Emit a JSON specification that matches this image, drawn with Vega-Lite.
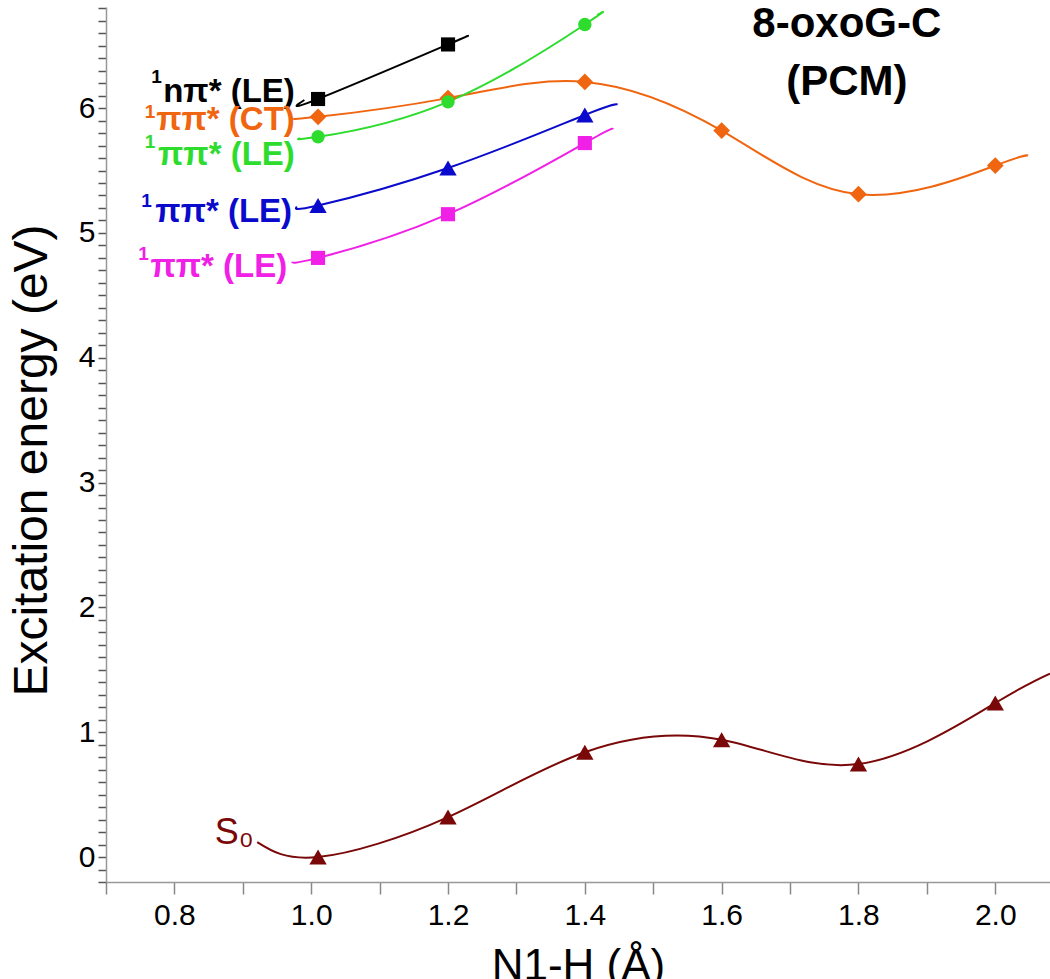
{
  "$schema": "https://vega.github.io/schema/vega-lite/v6.json",
  "autosize": {"type": "none"},
  "width": 944,
  "height": 875,
  "padding": {"left": 106, "top": 7, "right": 0, "bottom": 97},
  "background": "white",
  "config": {
    "view": {"stroke": null},
    "font": "Liberation Sans",
    "axis": {"grid": false, "labelFont": "Liberation Sans", "titleFont": "Liberation Sans", "labelColor": "#000", "titleColor": "#000", "titleFontWeight": "normal", "domainColor": "#999", "domainWidth": 1.5, "labelOverlap": false},
    "axisY": {"tickSize": 8, "tickColor": "#555", "tickWidth": 1.5}
  },
  "datasets": {
    "curves": [
      {"s": "npi", "x": 0.99, "y": 6.065, "m": false},
      {"s": "npi", "x": 1.01, "y": 6.073, "m": true},
      {"s": "npi", "x": 1.2, "y": 6.51, "m": true},
      {"s": "npi", "x": 1.215, "y": 6.546, "m": false},
      {"s": "ct", "x": 0.973, "y": 5.92, "m": false},
      {"s": "ct", "x": 1.01, "y": 5.93, "m": true},
      {"s": "ct", "x": 1.2, "y": 6.08, "m": true},
      {"s": "ct", "x": 1.4, "y": 6.21, "m": true},
      {"s": "ct", "x": 1.6, "y": 5.82, "m": true},
      {"s": "ct", "x": 1.8, "y": 5.31, "m": true},
      {"s": "ct", "x": 2.0, "y": 5.54, "m": true},
      {"s": "ct", "x": 2.048, "y": 5.62, "m": false},
      {"s": "pi3", "x": 0.984, "y": 5.76, "m": false},
      {"s": "pi3", "x": 1.01, "y": 5.77, "m": true},
      {"s": "pi3", "x": 1.2, "y": 6.05, "m": true},
      {"s": "pi3", "x": 1.4, "y": 6.67, "m": true},
      {"s": "pi3", "x": 1.418, "y": 6.746, "m": false},
      {"s": "pi2", "x": 0.979, "y": 5.21, "m": false},
      {"s": "pi2", "x": 1.01, "y": 5.22, "m": true},
      {"s": "pi2", "x": 1.2, "y": 5.52, "m": true},
      {"s": "pi2", "x": 1.4, "y": 5.945, "m": true},
      {"s": "pi2", "x": 1.448, "y": 6.03, "m": false},
      {"s": "pi1", "x": 0.972, "y": 4.77, "m": false},
      {"s": "pi1", "x": 1.01, "y": 4.8, "m": true},
      {"s": "pi1", "x": 1.2, "y": 5.15, "m": true},
      {"s": "pi1", "x": 1.4, "y": 5.72, "m": true},
      {"s": "pi1", "x": 1.441, "y": 5.83, "m": false},
      {"s": "s0", "x": 0.921, "y": 0.12, "m": false},
      {"s": "s0", "x": 1.01, "y": 0.0, "m": true},
      {"s": "s0", "x": 1.2, "y": 0.32, "m": true},
      {"s": "s0", "x": 1.4, "y": 0.84, "m": true},
      {"s": "s0", "x": 1.6, "y": 0.94, "m": true},
      {"s": "s0", "x": 1.8, "y": 0.745, "m": true},
      {"s": "s0", "x": 2.0, "y": 1.234, "m": true},
      {"s": "s0", "x": 2.08, "y": 1.47, "m": false}
    ],
    "labels": [
      {"s": "npi", "x": 0.976, "y": 6.13, "t": "nπ* (LE)"},
      {"s": "ct", "x": 0.976, "y": 5.905, "t": "ππ* (CT)"},
      {"s": "pi3", "x": 0.976, "y": 5.625, "t": "ππ* (LE)"},
      {"s": "pi2", "x": 0.972, "y": 5.17, "t": "ππ* (LE)"},
      {"s": "pi1", "x": 0.965, "y": 4.73, "t": "ππ* (LE)"}
    ],
    "sups": [
      {"s": "npi", "x": 0.7738, "y": 6.249, "t": "1"},
      {"s": "ct", "x": 0.7643, "y": 5.969, "t": "1"},
      {"s": "pi3", "x": 0.7643, "y": 5.728, "t": "1"},
      {"s": "pi2", "x": 0.7592, "y": 5.255, "t": "1"},
      {"s": "pi1", "x": 0.7548, "y": 4.831, "t": "1"}
    ],
    "titles": [
      {"x": 1.783, "y": 6.67, "t": "8-oxoG-C"},
      {"x": 1.783, "y": 6.21, "t": "(PCM)"}
    ],
    "s0label": [
      {"s": "s0", "x": 0.859, "y": 0.19, "t": "S₀"}
    ]
  },
  "encoding": {
    "x": {"field": "x", "type": "quantitative", "scale": {"domain": [0.7, 2.08], "nice": false, "zero": false},
      "axis": {"title": "N1-H (Å)", "titleFontSize": 44, "titlePadding": 14, "labelFontSize": 30, "labelPadding": 6, "tickSize": 12, "tickColor": "#888", "tickWidth": 1.5, "labelOverlap": false,
        "values": [0.7, 0.8, 0.9, 1.0, 1.1, 1.2, 1.3, 1.4, 1.5, 1.6, 1.7, 1.8, 1.9, 2.0],
        "labelExpr": "datum.value >= 0.75 && abs(datum.value*5 - round(datum.value*5)) < 0.001 ? format(datum.value, '.1f') : ''"}},
    "y": {"field": "y", "type": "quantitative", "scale": {"domain": [-0.2, 6.81], "nice": false, "zero": false},
      "axis": {"title": "Excitation energy (eV)", "titleFontSize": 48, "titlePadding": 22, "titleAnchor": "middle", "titleY": 453, "labelFontSize": 30, "labelPadding": 3, "labelOverlap": false,
        "values": [-0.2, -0.1, 0, 0.1, 0.2, 0.3, 0.4, 0.5, 0.6, 0.7, 0.8, 0.9, 1, 1.1, 1.2, 1.3, 1.4, 1.5, 1.6, 1.7, 1.8, 1.9, 2, 2.1, 2.2, 2.3, 2.4, 2.5, 2.6, 2.7, 2.8, 2.9, 3, 3.1, 3.2, 3.3, 3.4, 3.5, 3.6, 3.7, 3.8, 3.9, 4, 4.1, 4.2, 4.3, 4.4, 4.5, 4.6, 4.7, 4.8, 4.9, 5, 5.1, 5.2, 5.3, 5.4, 5.5, 5.6, 5.7, 5.8, 5.9, 6, 6.1, 6.2, 6.3, 6.4, 6.5, 6.6, 6.7, 6.8],
        "labelExpr": "abs(datum.value - round(datum.value)) < 0.001 ? format(datum.value, 'd') : ''"}}
  },
  "layer": [
    {
      "data": {"name": "curves"},
      "mark": {"type": "line", "interpolate": "natural", "strokeWidth": 2, "clip": true},
      "encoding": {
        "color": {"field": "s", "type": "nominal", "legend": null,
          "scale": {"domain": ["npi", "ct", "pi3", "pi2", "pi1", "s0"], "range": ["#000000", "#f0650f", "#2edc2e", "#0a0acc", "#f020e6", "#7a0808"]}}
      }
    },
    {
      "data": {"name": "curves"},
      "transform": [{"filter": "datum.m && (datum.s == 'npi' || datum.s == 'pi1')"}],
      "mark": {"type": "square", "filled": true, "opacity": 1, "size": 200},
      "encoding": {"color": {"field": "s", "type": "nominal", "legend": null}}
    },
    {
      "data": {"name": "curves"},
      "transform": [{"filter": "datum.m && datum.s == 'ct'"}],
      "mark": {"type": "point", "shape": "diamond", "filled": true, "opacity": 1, "size": 280},
      "encoding": {"color": {"field": "s", "type": "nominal", "legend": null}}
    },
    {
      "data": {"name": "curves"},
      "transform": [{"filter": "datum.m && datum.s == 'pi3'"}],
      "mark": {"type": "circle", "opacity": 1, "size": 180},
      "encoding": {"color": {"field": "s", "type": "nominal", "legend": null}}
    },
    {
      "data": {"name": "curves"},
      "transform": [{"filter": "datum.m && (datum.s == 'pi2' || datum.s == 's0')"}],
      "mark": {"type": "point", "shape": "triangle-up", "filled": true, "opacity": 1, "size": 300},
      "encoding": {"color": {"field": "s", "type": "nominal", "legend": null}}
    },
    {
      "data": {"name": "labels"},
      "mark": {"type": "text", "align": "right", "baseline": "middle", "fontSize": 33, "fontWeight": "bold", "font": "Liberation Sans"},
      "encoding": {
        "text": {"field": "t"},
        "color": {"field": "s", "type": "nominal", "legend": null}
      }
    },
    {
      "data": {"name": "sups"},
      "mark": {"type": "text", "align": "center", "baseline": "middle", "fontSize": 19, "fontWeight": "bold", "font": "Liberation Sans"},
      "encoding": {
        "text": {"field": "t"},
        "color": {"field": "s", "type": "nominal", "legend": null}
      }
    },
    {
      "data": {"name": "titles"},
      "mark": {"type": "text", "align": "center", "baseline": "middle", "fontSize": 42, "fontWeight": "bold", "font": "Liberation Sans", "color": "#000"},
      "encoding": {
        "text": {"field": "t"}
      }
    },
    {
      "data": {"name": "s0label"},
      "mark": {"type": "text", "align": "left", "baseline": "middle", "fontSize": 36, "font": "Liberation Sans"},
      "encoding": {
        "text": {"field": "t"},
        "color": {"field": "s", "type": "nominal", "legend": null}
      }
    }
  ]
}
